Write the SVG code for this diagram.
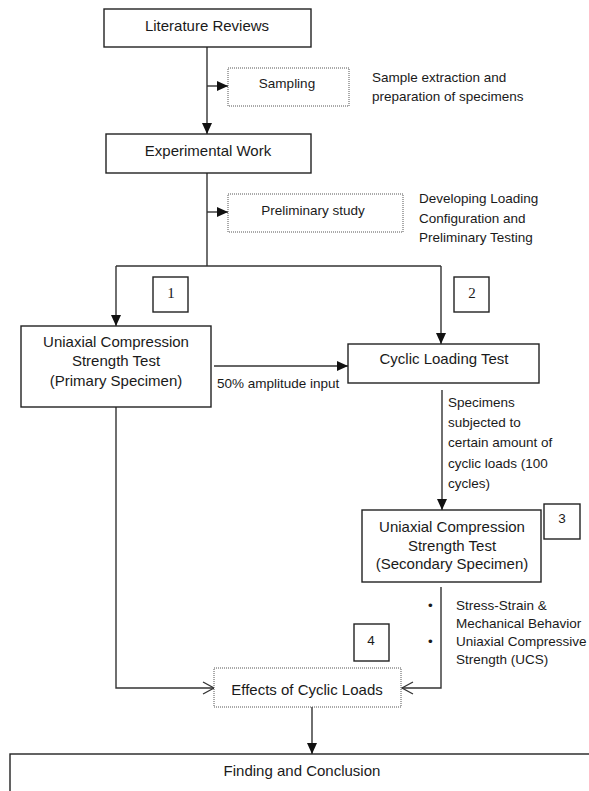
<svg xmlns="http://www.w3.org/2000/svg" width="589" height="791" viewBox="0 0 589 791">
<style>
text{font-family:"Liberation Sans",Arial,sans-serif;fill:#1a1a1a}
.t{font-size:15px}
.s{font-size:13.5px}
.n{font-family:"Liberation Serif","Times New Roman",serif;font-size:15px}
.box{fill:#fff;stroke:#222;stroke-width:1.4}
.dot{fill:#fff;stroke:#555;stroke-width:1;stroke-dasharray:1 1}
.c{fill:none;stroke:#333;stroke-width:1.4}
.m{text-anchor:middle}
</style>
<defs>
<marker id="ah" markerUnits="userSpaceOnUse" markerWidth="12" markerHeight="10" refX="11" refY="5" orient="auto">
<path d="M0,0 L11,5 L0,10 z" fill="#111"/>
</marker>
<marker id="oa" markerUnits="userSpaceOnUse" markerWidth="14" markerHeight="14" refX="12" refY="7" orient="auto">
<path d="M1,1 L12,7 L1,13" fill="none" stroke="#333" stroke-width="1.3"/>
</marker>
</defs>
<g id="connectors">
<path class="c" d="M207,47 V134" marker-end="url(#ah)"/>
<path class="c" d="M207,86 H228" marker-end="url(#ah)"/>
<path class="c" d="M207,173 V266"/>
<path class="c" d="M207,212 H228" marker-end="url(#ah)"/>
<path class="c" d="M116,266 H441"/>
<path class="c" d="M116,266 V326" marker-end="url(#ah)"/>
<path class="c" d="M441,266 V344" marker-end="url(#ah)"/>
<path class="c" d="M214,366 H348" marker-end="url(#ah)"/>
<path class="c" d="M442,390 V510" marker-end="url(#ah)"/>
<path class="c" d="M116,407 V688 H214" marker-end="url(#oa)"/>
<path class="c" d="M441,587 V688 H402" marker-end="url(#oa)"/>
<path class="c" d="M312,707 V754" marker-end="url(#ah)"/>
</g>
<g id="literature">
<rect class="box" x="104" y="9" width="207" height="38"/>
<text class="t m" x="207" y="31">Literature Reviews</text>
</g>
<g id="sampling">
<rect class="dot" x="228" y="68" width="121" height="38"/>
<text class="s m" x="287" y="88">Sampling</text>
</g>
<g id="sampling-note">
<text class="s" x="372" y="82">Sample extraction and</text>
<text class="s" x="372" y="101">preparation of specimens</text>
</g>
<g id="experimental">
<rect class="box" x="106" y="134" width="205" height="39"/>
<text class="t m" x="208" y="156">Experimental Work</text>
</g>
<g id="preliminary">
<rect class="dot" x="228" y="194" width="175" height="38"/>
<text class="s m" x="313" y="215">Preliminary study</text>
</g>
<g id="preliminary-note">
<text class="s" x="419" y="203">Developing Loading</text>
<text class="s" x="419" y="223">Configuration and</text>
<text class="s" x="419" y="242">Preliminary Testing</text>
</g>
<g id="label1">
<rect class="box" x="153" y="277" width="35" height="35"/>
<text class="n m" x="171" y="298">1</text>
</g>
<g id="label2">
<rect class="box" x="454" y="277" width="35" height="35"/>
<text class="n m" x="472" y="298">2</text>
</g>
<g id="ucs-primary">
<rect class="box" x="21" y="326" width="190" height="81"/>
<text class="t m" x="116" y="347">Uniaxial Compression</text>
<text class="t m" x="116" y="366">Strength Test</text>
<text class="t m" x="116" y="386">(Primary Specimen)</text>
</g>
<g id="amp-label">
<text class="s" x="217" y="388">50% amplitude input</text>
</g>
<g id="cyclic">
<rect class="box" x="348" y="344" width="191" height="39"/>
<text class="t m" x="444" y="364">Cyclic Loading Test</text>
</g>
<g id="cyclic-note">
<text class="s" x="448" y="407">Specimens</text>
<text class="s" x="448" y="427">subjected to</text>
<text class="s" x="448" y="447">certain amount of</text>
<text class="s" x="448" y="468">cyclic loads (100</text>
<text class="s" x="448" y="488">cycles)</text>
</g>
<g id="ucs-secondary">
<rect class="box" x="362" y="510" width="179" height="72"/>
<text class="t m" x="452" y="532">Uniaxial Compression</text>
<text class="t m" x="452" y="551">Strength Test</text>
<text class="t m" x="452" y="569">(Secondary Specimen)</text>
</g>
<g id="label3">
<rect class="box" x="544" y="504" width="36" height="35"/>
<text class="s m" x="562" y="523">3</text>
</g>
<g id="results-note">
<text class="s" x="428" y="610">•</text>
<text class="s" x="428" y="646">•</text>
<text class="s" x="456" y="610">Stress-Strain &amp;</text>
<text class="s" x="456" y="628">Mechanical Behavior</text>
<text class="s" x="456" y="646">Uniaxial Compressive</text>
<text class="s" x="456" y="664">Strength (UCS)</text>
</g>
<g id="label4">
<rect class="box" x="354" y="624" width="35" height="37"/>
<text class="s m" x="371" y="645">4</text>
</g>
<g id="effects">
<rect class="dot" x="214" y="668" width="187" height="39"/>
<text class="t m" x="307" y="695">Effects of Cyclic Loads</text>
</g>
<g id="finding">
<rect class="box" x="10" y="754" width="590" height="50"/>
<text class="t m" x="302" y="776">Finding and Conclusion</text>
</g>
</svg>
